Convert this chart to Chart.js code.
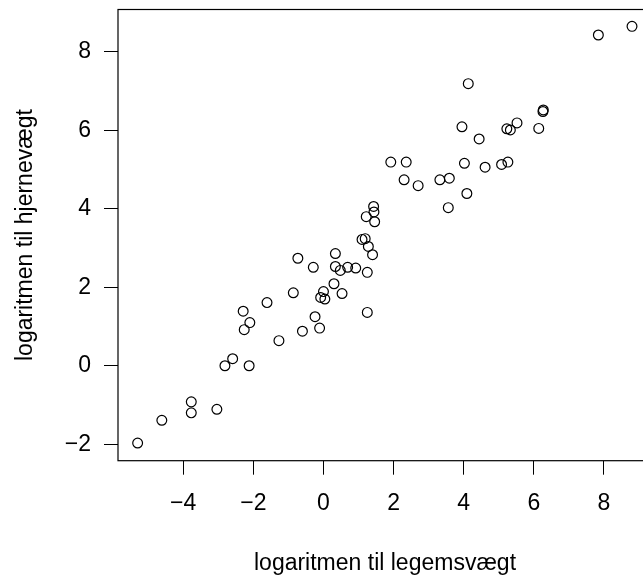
<!DOCTYPE html>
<html>
<head>
<meta charset="utf-8">
<script src="https://cdn.jsdelivr.net/npm/chart.js@4"></script>
<style>
  body { margin: 0; background: #fff; }
  #wrap { width: 643px; height: 577px; overflow: hidden; }
</style>
</head>
<body>
<div id="wrap"><canvas id="chart" width="680" height="577"></canvas></div>
<script>
// log body weight (kg) and log brain weight (g), one entry per mammal
const bodyLog = [
  1.22, -0.73, 0.30, 6.14, 3.59, 3.32, 2.70, 0.04, 1.43, -0.86,
  -2.29, -0.08, 0.00, -5.30, -2.81, 1.25, 0.69, 0.53, 7.84, -3.77,
  5.23, 6.26, -0.24, 2.30, 1.19, -1.61, 0.34, 6.27, 5.33, 4.44,
  -0.29, 4.13, 8.80, 1.25, 1.92, 3.56, 1.40, -2.12, -3.77, -4.61,
  0.34, 5.52, 0.92, 4.02, 4.61, 3.95, 2.36, -0.60, 4.09, 1.28,
  1.46, -1.27, -2.59, -2.10, -3.04, 5.26, 1.10, 5.08, -0.11, 0.48,
  -2.26, 1.44
];
const brainLog = [
  3.80, 2.74, 2.09, 6.05, 4.78, 4.74, 4.59, 1.70, 4.06, 1.86,
  1.39, 1.74, 1.89, -1.97, 0.00, 2.38, 2.51, 1.84, 8.43, -1.20,
  6.04, 6.48, 1.25, 4.74, 3.24, 1.61, 2.86, 6.52, 6.01, 5.78,
  2.51, 7.19, 8.65, 1.36, 5.19, 4.03, 2.83, 0.00, -0.92, -1.39,
  2.53, 6.19, 2.49, 5.16, 5.06, 6.09, 5.19, 0.88, 4.39, 3.04,
  3.67, 0.64, 0.18, 1.10, -1.11, 5.19, 3.22, 5.13, 0.96, 2.43,
  0.92, 3.92
];

const xTicks = [-4, -2, 0, 2, 4, 6, 8];
const yTicks = [-2, 0, 2, 4, 6, 8];
const xRange = [-5.86, 9.37];
const yRange = [-2.42, 9.08];

const xLabel = "logaritmen til legemsvægt";
const yLabel = "logaritmen til hjernevægt";

const FONT = { family: "'Liberation Sans', Arial, sans-serif", size: 23 };

const points = bodyLog.map((x, i) => ({ x: x, y: brainLog[i] }));

const fmt = v => (v < 0 ? "\u2212" + Math.abs(v) : String(v));

// R style box around the plot region
const boxPlugin = {
  id: "box",
  afterDraw(chart) {
    const { ctx, chartArea: a } = chart;
    ctx.save();
    ctx.strokeStyle = "#000";
    ctx.lineWidth = 1.2;
    ctx.strokeRect(a.left, a.top, a.right - a.left, a.bottom - a.top);
    ctx.restore();
  }
};

new Chart(document.getElementById("chart"), {
  type: "scatter",
  data: {
    datasets: [{
      data: points,
      pointStyle: "circle",
      pointRadius: 4.9,
      pointHoverRadius: 4.9,
      borderColor: "#000",
      backgroundColor: "rgba(0,0,0,0)",
      borderWidth: 1.2
    }]
  },
  options: {
    responsive: false,
    animation: false,
    events: [],
    layout: { padding: { top: 9.5, right: 28, left: 0, bottom: 0 } },
    plugins: { legend: { display: false }, tooltip: { enabled: false } },
    scales: {
      x: {
        type: "linear",
        min: xRange[0],
        max: xRange[1],
        afterBuildTicks: s => { s.ticks = xTicks.map(v => ({ value: v })); },
        afterFit: s => {
          s.height = 577 - 460.7;
          s.paddingLeft = 0;
          s.paddingRight = 0;
        },
        grid: { drawOnChartArea: false, tickLength: 14, color: "#000", lineWidth: 1 },
        border: { display: false },
        ticks: { color: "#000", font: FONT, padding: 15.5, maxRotation: 0, callback: fmt },
        title: { display: true, text: xLabel, color: "#000", font: FONT, padding: { top: 0, bottom: 0 } }
      },
      y: {
        type: "linear",
        min: yRange[0],
        max: yRange[1],
        afterBuildTicks: s => { s.ticks = yTicks.map(v => ({ value: v })); },
        afterFit: s => {
          s.width = 118;
          s.paddingTop = 0;
          s.paddingBottom = 0;
        },
        grid: { drawOnChartArea: false, tickLength: 14, color: "#000", lineWidth: 1 },
        border: { display: false },
        ticks: { color: "#000", font: FONT, padding: 13, callback: fmt },
        title: { display: true, text: yLabel, color: "#000", font: FONT, padding: { top: 12, bottom: 0 } }
      }
    }
  },
  plugins: [boxPlugin]
});
</script>
</body>
</html>
